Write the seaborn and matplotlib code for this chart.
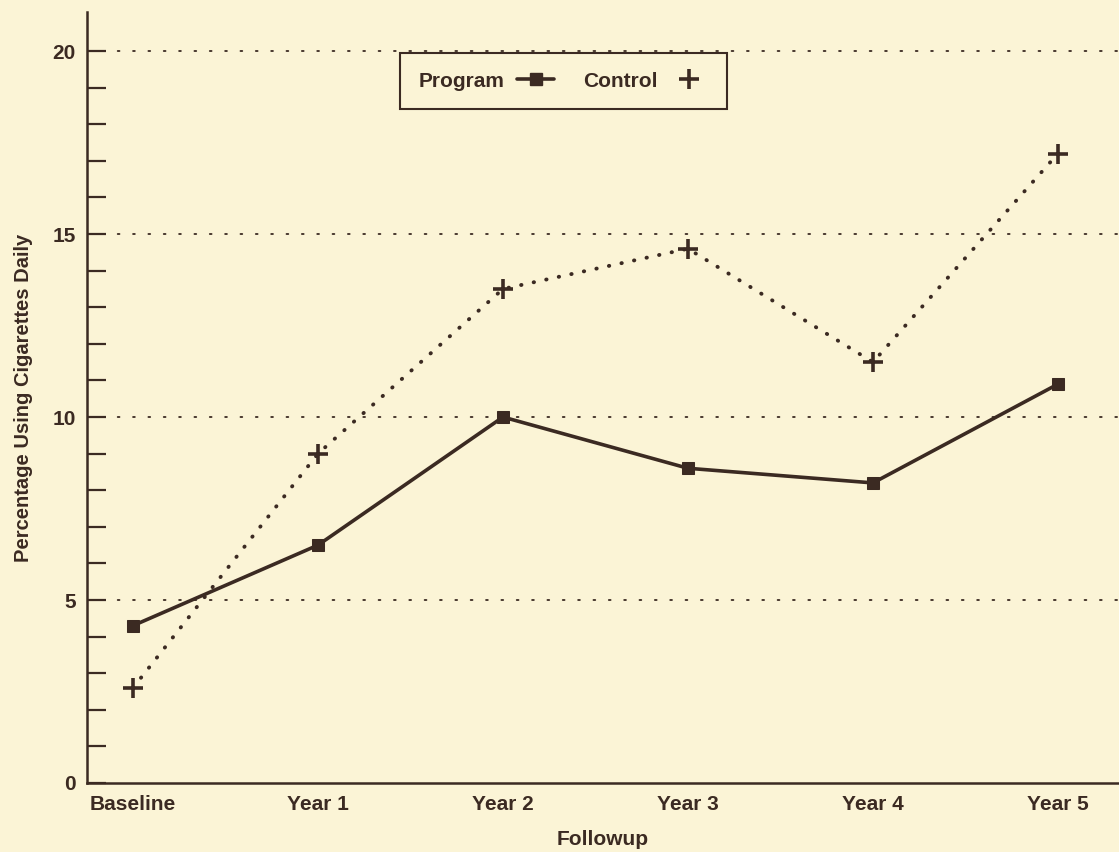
import pandas as pd
import matplotlib.pyplot as plt
import seaborn as sns
from matplotlib.lines import Line2D

# Datos
periodos = ['Baseline', 'Year 1', 'Year 2', 'Year 3', 'Year 4', 'Year 5']
program = [4.3, 6.5, 10.0, 8.6, 8.2, 10.9]
control = [2.6, 9.0, 13.5, 14.6, 11.5, 17.2]

fondo = '#fbf4d6'
tinta = '#3b2a22'

df = pd.DataFrame({'pos': range(len(periodos)), 'Program': program, 'Control': control})

sns.set_style('white')
plt.rcParams['font.family'] = ['Liberation Sans', 'DejaVu Sans']
plt.rcParams['font.weight'] = 'bold'

fig = plt.figure(figsize=(11.19, 8.52), dpi=100, facecolor=fondo)
ax = fig.add_axes([0.0777, 0.081, 0.9223, 0.905])
ax.set_facecolor(fondo)

# Lineas de referencia punteadas
for v in [5, 10, 15, 20]:
    ax.axhline(v, color=tinta, lw=1.3, ls=(0, (1, 7.5)), dash_capstyle='round', zorder=1)

sns.lineplot(data=df, x='pos', y='Control', ax=ax, color=tinta, lw=2.8,
             linestyle=(0, (0.1, 3.2)), dash_capstyle='round', marker='+',
             markersize=15, markeredgewidth=2.6, markeredgecolor=tinta,
             label='Control', zorder=3)
sns.lineplot(data=df, x='pos', y='Program', ax=ax, color=tinta, lw=2.6,
             marker='s', markersize=9, markeredgecolor=tinta, label='Program', zorder=4)

# Ejes
ax.set_xlim(-0.249, 5.33)
ax.set_ylim(0, 21.07)
ax.set_xticks(range(len(periodos)))
ax.set_xticklabels(periodos)
ax.set_yticks([0, 5, 10, 15, 20])
ax.set_yticks(range(0, 21), minor=True)
ax.tick_params(axis='x', length=0, pad=9, labelsize=15, labelcolor=tinta)
ax.tick_params(axis='y', which='both', left=True, direction='in', length=14, width=1.6,
               color=tinta, pad=8, labelsize=15, labelcolor=tinta)
ax.set_xlabel('Followup', fontsize=15, fontweight='bold', color=tinta, labelpad=11)
ax.set_ylabel('Percentage Using Cigarettes Daily', fontsize=14.5, fontweight='bold',
              color=tinta, labelpad=14)

sns.despine(ax=ax)
for lado in ['left', 'bottom']:
    ax.spines[lado].set_color(tinta)
    ax.spines[lado].set_linewidth(1.8)

# Leyenda
h_prog = Line2D([], [], color=tinta, lw=2.6, marker='s', markersize=9)
h_ctrl = Line2D([], [], color=tinta, lw=0, marker='+', markersize=15, markeredgewidth=2.6)
leg = ax.legend([h_prog, h_ctrl], ['Program', 'Control'], ncol=2, markerfirst=False,
                loc='upper left', bbox_to_anchor=(0.303, 0.947), borderaxespad=0,
                frameon=True, fancybox=False, edgecolor=tinta, facecolor=fondo,
                framealpha=1, fontsize=15, handlelength=1.8, columnspacing=1.4,
                borderpad=0.9, handletextpad=0.6)
leg.get_frame().set_linewidth(1.5)
for t in leg.get_texts():
    t.set_color(tinta)
    t.set_fontweight('bold')

fig.savefig('out.png', dpi=100, facecolor=fondo)
